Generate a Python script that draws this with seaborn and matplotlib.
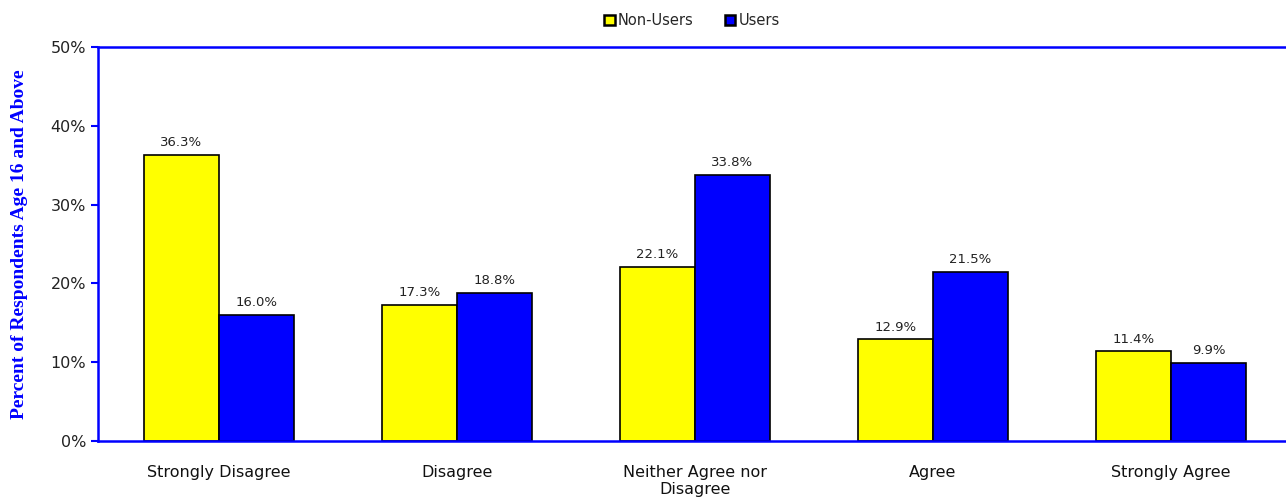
import matplotlib
matplotlib.use("Agg")
import matplotlib.pyplot as plt
import pandas as pd
import seaborn as sns
from matplotlib.ticker import PercentFormatter

categories = ["Strongly Disagree", "Disagree", "Neither Agree nor\nDisagree", "Agree", "Strongly Agree"]
groups = ["Non-Users", "Users"]
non_users = [36.3, 17.3, 22.1, 12.9, 11.4]
users = [16.0, 18.8, 33.8, 21.5, 9.9]
colors = ["#FFFF00", "#0000FF"]

df = pd.DataFrame({
    "category": categories * 2,
    "group": [groups[0]] * len(categories) + [groups[1]] * len(categories),
    "value": non_users + users,
})

sns.set_theme(style="white")
plt.rcParams["font.family"] = ["DejaVu Sans"]

fig = plt.figure(figsize=(12.86, 5.03), dpi=100)
ax = fig.add_axes([0.0762, 0.1233, 0.9238, 0.7833])

sns.barplot(data=df, x="category", y="value", hue="group", palette=colors,
            width=0.63, gap=0, edgecolor="black", linewidth=1.2, saturation=1,
            errorbar=None, ax=ax)

for cont in ax.containers:
    ax.bar_label(cont, fmt="%.1f%%", padding=4, fontsize=9.5, color="#222222")

ax.set_ylim(0, 50)
ax.set_xlim(-0.508, 4.483)
ax.yaxis.set_major_formatter(PercentFormatter(decimals=0))
ax.set_yticks([0, 10, 20, 30, 40, 50])
ax.tick_params(axis="y", which="both", left=True, length=5, width=1.5, color="#0000FF",
               labelsize=11.5, labelcolor="#222222", direction="out")
ax.tick_params(axis="x", bottom=False, labelsize=11.5, labelcolor="#111111", pad=11)
ax.set_xlabel("")
ax.set_ylabel("Percent of Respondents Age 16 and Above", family=["Liberation Serif"],
              fontweight="bold", fontsize=14, color="#0000FF", labelpad=16)

for side in ["left", "top", "bottom"]:
    ax.spines[side].set_color("#0000FF")
    ax.spines[side].set_linewidth(1.8)
ax.spines["right"].set_visible(False)

leg = ax.legend(loc="upper center", bbox_to_anchor=(0.5, 1.12), ncol=2, frameon=False,
                fontsize=10.5, handlelength=0.7, handleheight=0.7, handletextpad=0.2,
                columnspacing=2.2)
for h in leg.legend_handles:
    h.set_edgecolor("black")
    h.set_linewidth(1.8)

fig.savefig("out.png", dpi=100)
